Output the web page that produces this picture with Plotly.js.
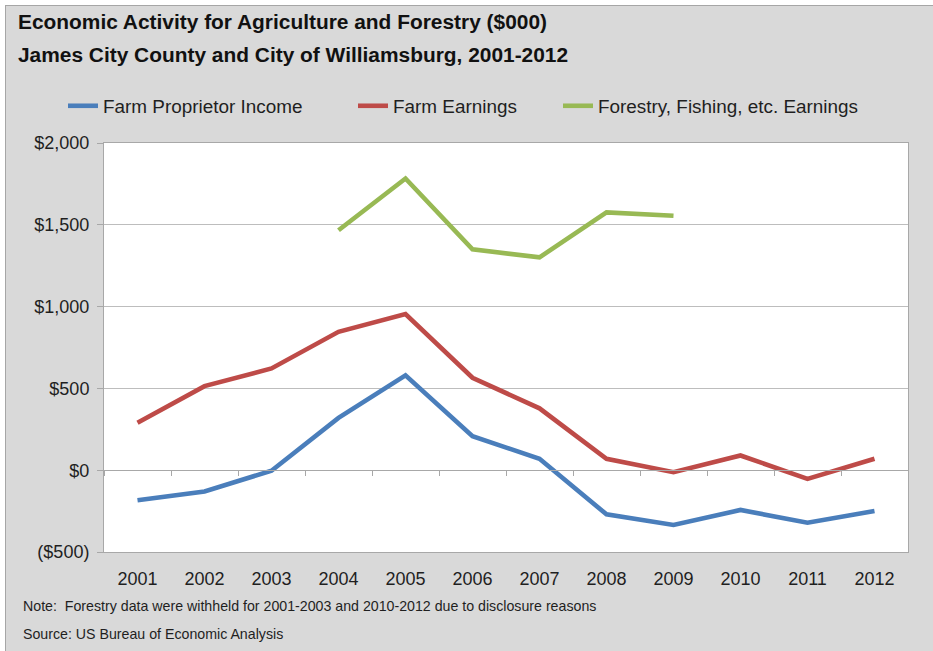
<!DOCTYPE html>
<html>
<head>
<meta charset="utf-8">
<script src="https://cdn.plot.ly/plotly-3.0.1.min.js"></script>
<style>
  html, body { margin: 0; padding: 0; background: #ffffff; width: 933px; height: 651px; overflow: hidden; }
  #frame { position: absolute; left: 5px; top: 5px; width: 1000px; height: 700px; background: #d9d9d9; border-left: 1px solid #a6a6a6; border-top: 1px solid #a6a6a6; }
  #plot { position: absolute; left: 0; top: 0; width: 933px; height: 651px; }
</style>
</head>
<body>
<div id="frame"></div>
<div id="plot"></div>
<script>
// ---- data ----
const years = ['2001','2002','2003','2004','2005','2006','2007','2008','2009','2010','2011','2012'];
const farmProprietorIncome = [-184, -130, -3, 320, 580, 208, 70, -270, -335, -243, -321, -249];
const farmEarnings = [290, 514, 622, 846, 954, 565, 378, 70, -12, 90, -53, 70];
const forestryEarnings = [null, null, null, 1467, 1783, 1350, 1301, 1576, 1555, null, null, null];
const seriesNames = ['Farm Proprietor Income', 'Farm Earnings', 'Forestry, Fishing, etc. Earnings'];
const yTickValues = [-500, 0, 500, 1000, 1500, 2000];
const yTickLabels = ['($500)', '$0', '$500', '$1,000', '$1,500', '$2,000'];
const titleLine1 = 'Economic Activity for Agriculture and Forestry ($000)';
const titleLine2 = 'James City County and City of Williamsburg, 2001-2012';
const noteText = 'Note:  Forestry data were withheld for 2001-2003 and 2010-2012 due to disclosure reasons';
const sourceText = 'Source: US Bureau of Economic Analysis';

// ---- styles ----
const FONT = 'Liberation Sans, Arial, sans-serif';
const TXT = '#1f1f1f';
const GRID = '#bdbdbd';
const AXIS = '#a8a8a8';
const W = 933, H = 651;
const M = {l: 104, r: 25, t: 143, b: 99};
const PW = W - M.l - M.r, PH = H - M.t - M.b;
const px = x => (x - M.l) / PW;
const py = y => (H - M.b - y) / PH;

const traces = [
  {x: years, y: farmProprietorIncome, name: seriesNames[0], type: 'scatter', mode: 'lines',
   line: {color: '#4a7ebb', width: 4.6}, legend: 'legend', xaxis: 'x', yaxis: 'y'},
  {x: years, y: farmEarnings, name: seriesNames[1], type: 'scatter', mode: 'lines',
   line: {color: '#be4b48', width: 4.6}, legend: 'legend2', xaxis: 'x', yaxis: 'y'},
  {x: years, y: forestryEarnings, name: seriesNames[2], type: 'scatter', mode: 'lines',
   line: {color: '#98b954', width: 4.6}, connectgaps: false, legend: 'legend3', xaxis: 'x2', yaxis: 'y'}
];

const legendBase = {
  orientation: 'h', xref: 'container', yref: 'container', xanchor: 'left', yanchor: 'middle',
  bgcolor: 'rgba(0,0,0,0)', borderwidth: 0,
  font: {family: FONT, size: 18.9, color: TXT}
};

const layout = {
  width: W, height: H,
  margin: M,
  paper_bgcolor: 'rgba(0,0,0,0)',
  plot_bgcolor: '#ffffff',
  showlegend: true,
  legend: Object.assign({}, legendBase, {x: 63 / W, y: 1 - 106 / H}),
  legend2: Object.assign({}, legendBase, {x: 353 / W, y: 1 - 106 / H}),
  legend3: Object.assign({}, legendBase, {x: 558 / W, y: 1 - 106 / H}),
  xaxis: {
    type: 'category', categoryorder: 'array', categoryarray: years,
    range: [-0.5, years.length - 0.5],
    showgrid: false, zeroline: false,
    showline: true, mirror: true, linecolor: AXIS, linewidth: 1,
    ticks: '', ticklabelstandoff: 10,
    tickfont: {family: FONT, size: 18, color: TXT},
    fixedrange: true
  },
  xaxis2: {
    type: 'category', categoryorder: 'array', categoryarray: years,
    range: [-0.5, years.length - 0.5],
    overlaying: 'x', anchor: 'free', position: (0 - (-500)) / 2500,
    showgrid: false, zeroline: false,
    showline: true, linecolor: AXIS, linewidth: 1,
    ticks: 'outside', tickson: 'boundaries', ticklen: 5, tickcolor: AXIS,
    showticklabels: false, fixedrange: true
  },
  yaxis: {
    range: [-500, 2000],
    tickmode: 'array', tickvals: yTickValues, ticktext: yTickLabels,
    showgrid: true, gridcolor: GRID, gridwidth: 1,
    zeroline: false,
    showline: true, mirror: true, linecolor: AXIS, linewidth: 1,
    ticks: 'outside', ticklen: 6, tickcolor: AXIS,
    ticklabelstandoff: 4,
    tickfont: {family: FONT, size: 18, color: TXT},
    fixedrange: true
  },
  annotations: [
    {text: '<b>' + titleLine1 + '</b>', xref: 'paper', yref: 'paper', x: px(16), y: py(21),
     xanchor: 'left', yanchor: 'middle', showarrow: false, font: {family: FONT, size: 20.9, color: '#111'}},
    {text: '<b>' + titleLine2 + '</b>', xref: 'paper', yref: 'paper', x: px(16), y: py(55),
     xanchor: 'left', yanchor: 'middle', showarrow: false, font: {family: FONT, size: 20.9, color: '#111'}},
    {text: noteText, xref: 'paper', yref: 'paper', x: px(21), y: py(606),
     xanchor: 'left', yanchor: 'middle', showarrow: false, font: {family: FONT, size: 14.2, color: TXT}},
    {text: sourceText, xref: 'paper', yref: 'paper', x: px(21), y: py(634),
     xanchor: 'left', yanchor: 'middle', showarrow: false, font: {family: FONT, size: 14.2, color: TXT}}
  ]
};

Plotly.newPlot('plot', traces, layout, {displayModeBar: false, staticPlot: true});
</script>
</body>
</html>
